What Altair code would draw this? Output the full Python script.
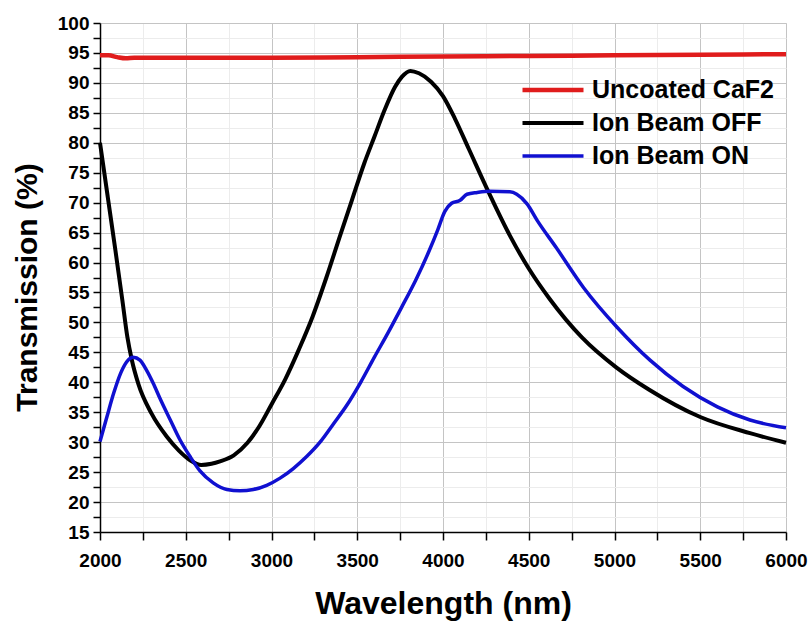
import altair as alt
import pandas as pd

# ---- data ----
red_nm = [2000, 2050, 2100, 2150, 2200, 2500, 3000, 3500, 4000, 4500, 5000, 5500, 6000]
red_val = [94.6, 94.6, 94.3, 94.1, 94.2, 94.2, 94.2, 94.3, 94.4, 94.5, 94.6, 94.7, 94.8]

off_nm = [2000, 2045, 2090, 2130, 2160, 2185, 2225, 2300, 2390, 2460, 2530, 2590, 2650,
          2700, 2780, 2860, 2930, 3000, 3080, 3160, 3240, 3320, 3400, 3470, 3540, 3600,
          3660, 3720, 3760, 3810, 3860, 3930, 4000, 4070, 4150, 4270, 4390, 4500, 4620, 4810,
          5010, 5200, 5500, 5790, 6000]
off_val = [80.0, 71.0, 62.0, 53.8, 47.5, 43.8, 39.6, 34.8, 30.9, 28.6, 26.9, 26.2, 26.4,
           26.8, 27.8, 29.9, 32.7, 36.3, 40.5, 45.5, 51.0, 57.5, 64.5, 70.5, 76.5, 81.0,
           85.5, 89.3, 91.0, 92.0, 91.6, 90.2, 87.8, 84.0, 79.0, 71.5, 64.5, 59.0, 54.0, 47.5,
           42.5, 38.8, 34.2, 31.5, 29.9]

on_nm = [2000, 2040, 2080, 2120, 2155, 2194, 2233, 2272, 2311, 2350, 2410, 2466, 2525,
         2583, 2660, 2740, 2816, 2894, 2972, 3050, 3127, 3205, 3283, 3360, 3440, 3520,
         3600, 3680, 3760, 3840, 3920, 3970, 4010, 4050, 4100, 4140, 4200, 4270, 4390,
         4430, 4490, 4550, 4660, 4820, 5015, 5207, 5400, 5600, 5790, 6000]
on_val = [30.1, 34.2, 38.2, 41.5, 43.4, 44.2, 43.7, 42.0, 39.8, 37.3, 33.7, 30.4, 27.6,
          25.2, 23.2, 22.1, 21.9, 22.1, 22.8, 24.0, 25.6, 27.6, 30.0, 33.0, 36.2, 40.0,
          44.2, 48.3, 52.6, 57.0, 62.0, 65.5, 68.5, 69.9, 70.4, 71.4, 71.7, 71.9, 71.8,
          71.4, 69.8, 67.0, 62.5, 55.8, 49.2, 43.7, 39.3, 35.9, 33.7, 32.4]

series_names = ["Uncoated CaF2", "Ion Beam OFF", "Ion Beam ON"]
series_colors = ["#e01c1c", "#000000", "#1010d0"]
series_widths = [4.5, 3.5, 4.0]

x_ticks = list(range(2000, 6001, 250))
y_ticks = [15 + 2.5 * i for i in range(35)]

rows = []
for name, xs, ys in [(series_names[0], red_nm, red_val),
                     (series_names[1], off_nm, off_val),
                     (series_names[2], on_nm, on_val)]:
    for x, y in zip(xs, ys):
        rows.append({"series": name, "wavelength": x, "transmission": y})
df = pd.DataFrame(rows)

FONT = "Liberation Sans"

x_axis = alt.Axis(
    values=x_ticks,
    format="d",
    labelExpr="datum.value % 500 === 0 ? datum.label : ''",
    labelFlush=False,
    title="Wavelength (nm)",
    titleFont=FONT, titleFontSize=32, titleFontWeight="bold", titleColor="black",
    titlePadding=18,
    labelFont=FONT, labelFontSize=19, labelFontWeight="bold", labelColor="black",
    labelPadding=11,
    domainColor="black", domainWidth=1.5,
    ticks=True, tickColor="black", tickWidth=1.5, tickSize=8,
    grid=True,
    gridColor={"condition": {"test": "datum.value % 500 === 0", "value": "#c4c4c4"}, "value": "#ececec"},
    gridWidth=1,
)

y_axis = alt.Axis(
    values=y_ticks,
    format="d",
    labelExpr="datum.value % 5 === 0 ? datum.label : ''",
    labelFlush=False,
    title="Transmission (%)",
    titleFont=FONT, titleFontSize=30, titleFontWeight="bold", titleColor="black",
    titlePadding=15, titleY=264,
    labelFont=FONT, labelFontSize=19, labelFontWeight="bold", labelColor="black",
    labelPadding=4,
    domainColor="black", domainWidth=1.5,
    ticks=True, tickColor="black", tickWidth=1.5, tickSize=7,
    grid=True,
    gridColor={"condition": {"test": "datum.value % 5 === 0", "value": "#c4c4c4"}, "value": "#ececec"},
    gridWidth=1,
)

chart = alt.Chart(df).mark_line(interpolate="monotone").encode(
    x=alt.X("wavelength:Q", scale=alt.Scale(domain=[2000, 6000], nice=False, zero=False), axis=x_axis),
    y=alt.Y("transmission:Q", scale=alt.Scale(domain=[15, 100], nice=False, zero=False), axis=y_axis),
    color=alt.Color(
        "series:N",
        scale=alt.Scale(domain=series_names, range=series_colors),
        legend=alt.Legend(
            orient="none", legendX=420, legendY=54, title=None,
            symbolType="stroke", symbolSize=3721, symbolStrokeWidth=4,
            labelFont=FONT, labelFontSize=25, labelFontWeight="bold", labelColor="black",
            labelLimit=0,
            clipHeight=26, rowPadding=7, labelOffset=6, padding=0,
        ),
    ),
    strokeWidth=alt.StrokeWidth("series:N", scale=alt.Scale(domain=series_names, range=series_widths), legend=None),
    order=alt.Order("wavelength:Q"),
).properties(
    width=686, height=509,
    padding={"left": 100, "top": 23, "right": 26, "bottom": 89},
    autosize="none",
).configure_view(stroke=None).configure(background="white")

chart.save("out.html", embed_options={"renderer": "svg", "actions": False})
